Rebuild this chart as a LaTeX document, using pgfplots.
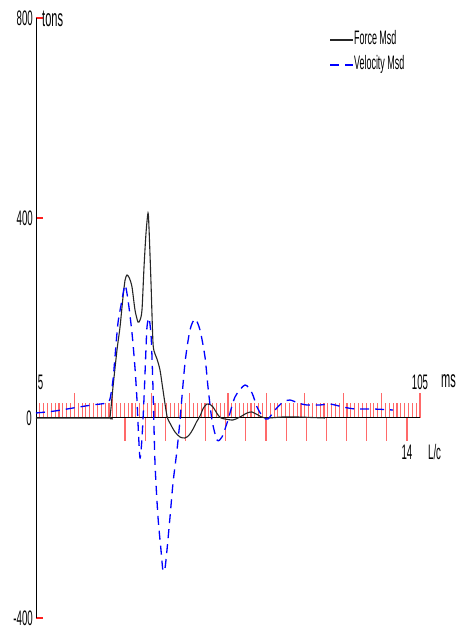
\documentclass[border=0pt]{standalone}
\usepackage{fontspec}
\setmainfont{Liberation Sans}[FakeStretch=0.46]
\usepackage{pgfplots}
\usepackage{pgfplotstable}
\pgfplotsset{compat=1.18}
\definecolor{tickred}{RGB}{255,105,105}
\definecolor{ytickred}{RGB}{255,30,30}

\pgfplotstableread{
ms tons
5.00 0
23.75 0
24.27 2
25.05 62
26.09 136
26.88 182
27.66 242
28.20 276
28.70 286
29.30 280
30.00 262
30.78 216
31.56 192
32.10 196
32.60 216
33.13 302
33.65 370
34.17 410
34.43 380
34.95 270
35.47 150
36.00 128
36.51 118
37.29 96
38.07 56
39.11 4
40.00 -12
41.20 -28
42.50 -38
43.80 -40
44.90 -34
45.89 -22
46.80 -8
47.71 4
48.60 20
49.53 28
50.30 27
51.09 22
52.40 6
53.20 0
54.22 -2
56.30 -4
58.13 2
59.95 10
61.25 12
62.81 6
64.64 0
69.32 2
72.97 2
80.26 0
}\forcetable

\pgfplotstableread{
ms tons
5.00 10
9.95 14
14.64 20
19.58 26
23.49 30
24.27 38
25.05 76
25.57 122
26.35 190
27.40 236
28.18 266
28.96 236
30.00 170
30.78 100
31.30 36
31.56 -10
32.08 -80
32.60 -40
33.13 40
33.65 140
33.90 182
34.43 200
35.00 160
35.47 60
35.99 -90
36.77 -198
37.55 -264
38.07 -306
38.60 -300
39.11 -264
39.90 -198
40.68 -130
41.72 -64
42.50 -4
43.80 110
45.10 176
46.41 198
47.71 176
49.01 122
49.79 62
50.83 -4
52.14 -44
53.44 -38
55.00 -4
56.82 42
59.43 66
61.25 50
62.55 22
64.11 2
65.42 -2
67.24 16
69.32 32
71.15 36
73.23 30
75.57 26
78.96 26
81.56 28
84.95 22
88.07 18
92.76 18
97.97 16
}\velotable

\newcommand\numfont{\fontsize{21}{21}\selectfont}
\newcommand\unitfont{\fontsize{24}{24}\selectfont}

\begin{document}
\begin{tikzpicture}
\begin{axis}[
  scale only axis,
  width=384pt, height=600pt,
  xmin=5, xmax=105, ymin=-400, ymax=800,
  axis lines=none,
  xtick=\empty, ytick=\empty,
  clip=false,
  legend style={at={(axis cs:81.5,774)}, anchor=north west,
    draw=none, fill=none, inner sep=0pt, outer sep=0pt,
    font=\fontsize{19.5}{19.5}\selectfont, row sep=7pt,
    nodes={inner sep=0pt, text height=14pt, text depth=4pt},
    /tikz/every even column/.append style={column sep=6pt}},
  legend cell align=left,
  legend image code/.code={\draw[#1] (0pt,0pt) -- (23pt,0pt);},
]
% ms minor ticks (every 1 ms)
\draw[draw=tickred, line width=1.1pt]
  \foreach \t in {6,...,104} {(axis cs:\t,0) -- (axis cs:\t,30)};
% ms major ticks (every 10 ms)
\draw[draw=tickred, line width=1.1pt]
  \foreach \t in {15,25,35,45,55,65,75,85,95,105} {(axis cs:\t,0) -- (axis cs:\t,50)};
% L/c ticks
\draw[draw=tickred, line width=1.1pt]
  \foreach \t in {28.18,33.43,38.67,43.92,49.16,54.41,59.65,64.90,70.14,75.39,80.63,85.88,91.12,96.37,101.61} {(axis cs:\t,0) -- (axis cs:\t,-46)};
% y ticks
\draw[draw=ytickred, line width=1.2pt]
  \foreach \t in {-400,400,800} {(axis cs:5,\t) -- ++(7pt,0pt)};
% axis lines
\draw[black, line width=0.9pt] (axis cs:5,-400) -- (axis cs:5,800);
\draw[black, line width=1pt] (axis cs:5,0) -- (axis cs:105,0);

\addplot[black!85, line width=1.1pt, smooth, tension=0.45] table[x=ms, y=tons] {\forcetable};
\addlegendentry{Force Msd}
\addplot[blue, line width=1.3pt, dash pattern=on 9pt off 6pt, smooth, tension=0.45] table[x=ms, y=tons] {\velotable};
\addlegendentry{Velocity Msd}

% labels
\node[anchor=east, inner sep=0pt, font=\numfont] at ([xshift=-3pt]axis cs:5,800) {800};
\node[anchor=east, inner sep=0pt, font=\numfont] at ([xshift=-3pt]axis cs:5,400) {400};
\node[anchor=east, inner sep=0pt, font=\numfont] at ([xshift=-4pt]axis cs:5,0) {0};
\node[anchor=east, inner sep=0pt, font=\numfont] at ([xshift=-3pt]axis cs:5,-400) {-400};
\node[anchor=base west, inner sep=0pt, font=\unitfont] at ([shift={(6pt,-9pt)}]axis cs:5,800) {tons};
\node[anchor=base, inner sep=0pt, font=\numfont] at ([shift={(4.5pt,28pt)}]axis cs:5,0) {5};
\node[anchor=base, inner sep=0pt, font=\numfont] at ([yshift=28pt]axis cs:105,0) {105};
\node[anchor=base west, inner sep=0pt, font=\unitfont] at ([shift={(21pt,30pt)}]axis cs:105,0) {ms};
\node[anchor=base, inner sep=0pt, font=\numfont] at ([yshift=-42pt]axis cs:101.61,0) {14};
\node[anchor=base west, inner sep=0pt, font=\numfont] at ([shift={(21pt,-42pt)}]axis cs:101.61,0) {L/c};
\end{axis}
\pgfresetboundingbox
\path[use as bounding box] ([shift={(-36pt,-13pt)}]current axis.south west) rectangle ([shift={(42pt,18pt)}]current axis.north east);
\end{tikzpicture}
\end{document}
